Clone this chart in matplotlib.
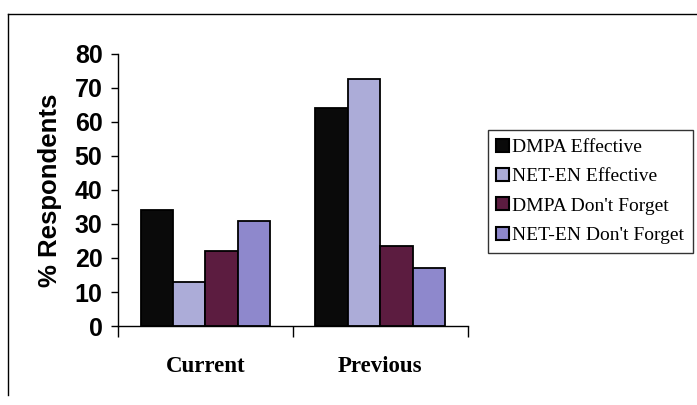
import numpy as np
import matplotlib.pyplot as plt
from matplotlib.lines import Line2D

# grup adları ve seriler
groups = ["Current", "Previous"]
series = ["DMPA Effective", "NET-EN Effective", "DMPA Don't Forget", "NET-EN Don't Forget"]
dmpa_eff = [34, 64]
neten_eff = [13, 72.5]
dmpa_df = [22, 23.5]
neten_df = [31, 17]
colors = ["#0a0a0a", "#acacd8", "#5c1c40", "#8e88cc"]

fig = plt.figure(figsize=(6.97, 4.05), dpi=100)
ax = fig.add_axes([0.169, 0.195, 0.502, 0.672])

x = np.arange(len(groups))
w = 0.185
vals = [dmpa_eff, neten_eff, dmpa_df, neten_df]
for i, (v, c, lab) in enumerate(zip(vals, colors, series)):
    ax.bar(x + (i - 1.5) * w, v, w, color=c, edgecolor="black", linewidth=1.3, label=lab)

ax.set_xlim(-0.5, 1.5)
ax.set_ylim(0, 80)
ax.set_yticks(np.arange(0, 81, 10))
ax.set_xticks([-0.5, 0.5, 1.5])
ax.set_xticklabels([])
ax.tick_params(axis="x", direction="out", length=8, width=1)
ax.tick_params(axis="y", direction="out", length=5, width=1, pad=6)
for t in ax.get_yticklabels():
    t.set_fontfamily("Liberation Sans")
    t.set_fontsize(18)
    t.set_fontweight("bold")
ax.spines["top"].set_visible(False)
ax.spines["right"].set_visible(False)
ax.spines["left"].set_linewidth(1)
ax.spines["bottom"].set_linewidth(1)

ax.set_ylabel("% Respondents", fontfamily="Liberation Sans", fontsize=18.5,
              fontweight="bold", labelpad=9)

for xi, g in zip(x, groups):
    ax.text(xi, -12, g, ha="center", va="center", fontfamily="Liberation Serif",
            fontsize=16.5, fontweight="bold", transform=ax.transData, clip_on=False)

leg = ax.legend(loc="center left", bbox_to_anchor=(1.057, 0.25, 0.586, 0.489),
                prop={"family": "Liberation Serif", "size": 14},
                frameon=True, fancybox=False, handlelength=0.65, handleheight=0.65,
                handletextpad=0.15, borderpad=0.45, labelspacing=0.62, borderaxespad=0)
leg.get_frame().set_edgecolor("black")
leg.get_frame().set_linewidth(1)
for h in leg.legend_handles:
    h.set_edgecolor("black")
    h.set_linewidth(1.5)

# çerçeve (sol ve üst kenar)
fig.add_artist(Line2D([0.012, 0.012], [0.025, 0.965], color="black", lw=1, transform=fig.transFigure))
fig.add_artist(Line2D([0.012, 1.0], [0.965, 0.965], color="black", lw=1, transform=fig.transFigure))

fig.savefig("out.png", dpi=100)
